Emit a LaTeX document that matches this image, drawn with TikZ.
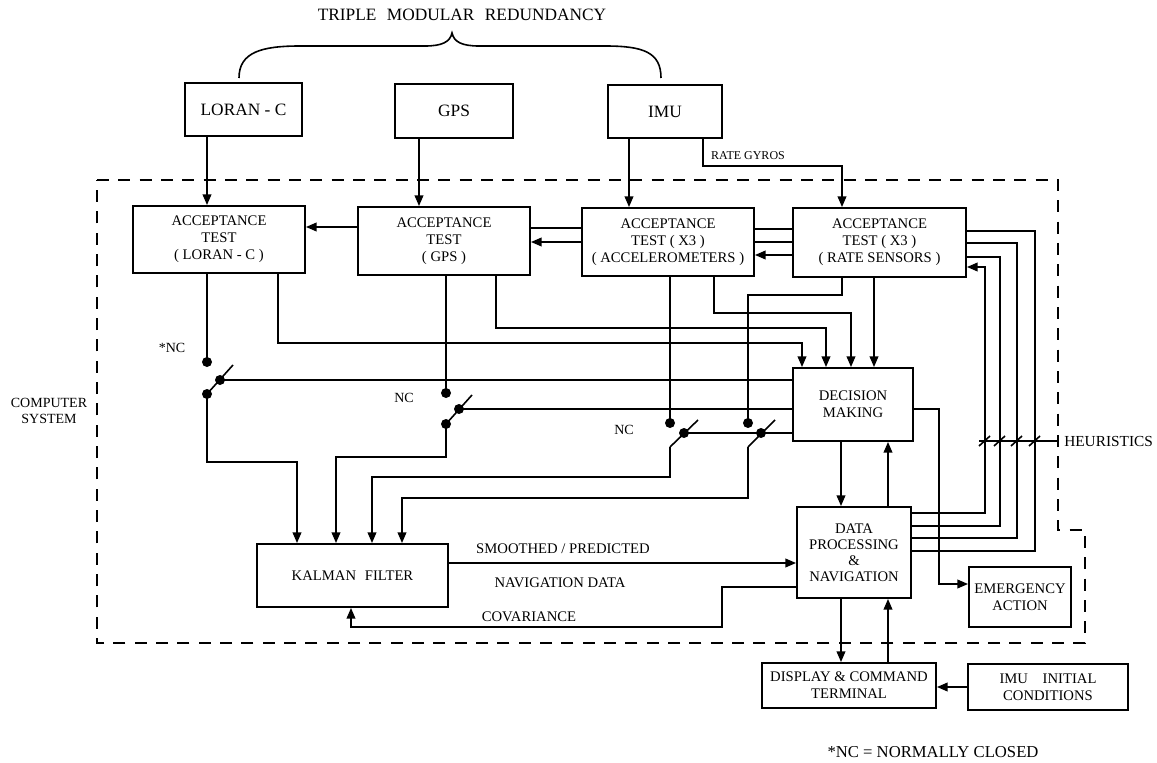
\documentclass[tikz,border=0pt]{standalone}
\usepackage{fontspec}
\setmainfont{Liberation Serif}
\usetikzlibrary{arrows.meta}
\begin{document}
\begin{tikzpicture}[x=0.75pt,y=-0.75pt,
  ln/.style={line width=1.2pt},
  arr/.style={ln,-{Triangle[length=8pt,width=6.5pt]}},
  box/.style={draw,line width=1.4pt,align=center,inner sep=1pt,font=\fontsize{11}{12.8}\selectfont},
  bsz/.style 2 args={minimum width=#1*0.75pt,minimum height=#2*0.75pt},
  dot/.style={circle,fill,inner sep=0pt,minimum size=7.5pt},
  lbl/.style={font=\fontsize{11}{13}\selectfont,inner sep=0pt},
  bigf/.style={font=\fontsize{13}{15}\selectfont},
]
\useasboundingbox (0,0) rectangle (1157,763);

% ---------- boxes ----------
\node[box,bigf,bsz={117}{53}] (loran) at (243.5,109.5) {LORAN - C};
\node[box,bigf,bsz={118}{54}] (gps) at (454,111) {GPS};
\node[box,bigf,bsz={114}{53}] (imu) at (665,111.5) {IMU};

\node[box,bsz={172}{67}] (atl) at (219,239.5) {ACCEPTANCE\\TEST\\( LORAN - C )};
\node[box,bsz={172}{68}] (atg) at (444,241) {ACCEPTANCE\\TEST\\( GPS )};
\node[box,bsz={172}{68}] (ata) at (668,242) {ACCEPTANCE\\TEST ( X3 )\\( ACCELEROMETERS )};
\node[box,bsz={173}{69}] (atr) at (879.5,242.5) {ACCEPTANCE\\TEST ( X3 )\\( RATE SENSORS )};

\node[box,bsz={120}{73}] (dm) at (853,404.5) {DECISION\\MAKING};
\node[box,bsz={114}{91},font=\fontsize{11}{12}\selectfont] (dpn) at (854,552.5) {DATA\\PROCESSING\\\&\\NAVIGATION};
\node[box,bsz={102}{60}] (ea) at (1020,597) {EMERGENCY\\ACTION};
\node[box,bsz={191}{63}] (kf) at (352.5,575.5) {KALMAN\hspace{0.6em}FILTER};
\node[box,bsz={174}{45}] (dct) at (849,685.5) {DISPLAY \& COMMAND\\TERMINAL};
\node[box,bsz={160}{46}] (iic) at (1048,687) {IMU\hspace{1em}INITIAL\\CONDITIONS};

% ---------- computer system boundary ----------
\draw[line width=1.4pt,dash pattern=on 9pt off 7pt]
  (97,180) -- (1058,180) -- (1058,530) -- (1085,530) -- (1085,643) -- (97,643) -- cycle;
\node[lbl,align=center,font=\fontsize{10.5}{12}\selectfont] (cs) at (49,411) {COMPUTER\\SYSTEM};

% ---------- triple modular redundancy ----------
\node[lbl,font=\fontsize{13}{15}\selectfont] (tmr) at (462,15) {TRIPLE\hspace{0.6em}MODULAR\hspace{0.6em}REDUNDANCY};
\draw[ln] (239,78) .. controls (239,52) and (262,46) .. (300,46) -- (425,46)
  .. controls (442,46) and (450,42) .. (452,33)
  .. controls (454,42) and (462,46) .. (479,46) -- (605,46)
  .. controls (643,46) and (661,52) .. (661,78);

% ---------- sensor inputs ----------
\draw[arr] (loran.south -| 207,0) -- (atl.north -| 207,0);
\draw[arr] (gps.south -| 419,0) -- (atg.north -| 419,0);
\draw[arr] (imu.south -| 629,0) -- (ata.north -| 629,0);
\draw[arr] (imu.south -| 703,0) -- (703,166) -- (842,166) -- (atr.north -| 842,0);
\node[lbl,font=\fontsize{9}{10}\selectfont] (rg) at (748,156) {RATE GYROS};

% ---------- links between acceptance tests ----------
\draw[arr] (atg.west |- 0,227) -- (atl.east |- 0,227);
\draw[ln] (ata.west |- 0,228) -- (atg.east |- 0,228);
\draw[arr] (ata.west |- 0,242) -- (atg.east |- 0,242);
\draw[ln] (atr.west |- 0,229) -- (ata.east |- 0,229);
\draw[ln] (atr.west |- 0,242) -- (ata.east |- 0,242);
\draw[arr] (atr.west |- 0,255) -- (ata.east |- 0,255);

% ---------- lines to decision making (top) ----------
\draw[arr] (atl.south -| 278,0) -- (278,343) -- (802,343) -- (dm.north -| 802,0);
\draw[arr] (atg.south -| 496,0) -- (496,328) -- (826,328) -- (dm.north -| 826,0);
\draw[arr] (ata.south -| 714,0) -- (714,313) -- (851,313) -- (dm.north -| 851,0);
\draw[arr] (atr.south -| 874,0) -- (dm.north -| 874,0);

% ---------- switch 1 ----------
\node[dot] (s1u) at (207,362) {};
\node[dot] (s1l) at (207,394) {};
\node[dot] (s1m) at (220,380) {};
\coordinate (s1t) at (233,365);
\draw[ln] (atl.south -| s1u) -- (s1u.center);
\draw[ln] (s1l.center) -- (s1t);
\draw[ln] (s1m.center) -- (dm.west |- s1m);
\draw[arr] (s1l.center) -- (207,462) -- (297,462) -- (kf.north -| 297,0);
\node[lbl,font=\fontsize{10.5}{12}\selectfont] (nc1) at (172,348) {*NC};

% ---------- switch 2 ----------
\node[dot] (s2u) at (446,393) {};
\node[dot] (s2l) at (446,424) {};
\node[dot] (s2m) at (459,409) {};
\coordinate (s2t) at (472,395);
\draw[ln] (atg.south -| s2u) -- (s2u.center);
\draw[ln] (s2l.center) -- (s2t);
\draw[ln] (s2m.center) -- (dm.west |- s2m);
\draw[arr] (s2l.center) -- (446,457) -- (336,457) -- (kf.north -| 336,0);
\node[lbl,font=\fontsize{10.5}{12}\selectfont] (nc2) at (404,398) {NC};

% ---------- switches 3 and 4 ----------
\node[dot] (s3u) at (670,423) {};
\node[dot] (s3m) at (684,433) {};
\coordinate (s3b) at (670,447);
\coordinate (s3t) at (698,420);
\node[dot] (s4u) at (748,423) {};
\node[dot] (s4m) at (761,433) {};
\coordinate (s4b) at (748,447);
\coordinate (s4t) at (775,420);
\draw[ln] (ata.south -| s3u) -- (s3u.center);
\draw[ln] (atr.south -| 842,0) -- (842,295) -- (748,295) -- (s4u.center);
\draw[ln] (s3b) -- (s3t);
\draw[ln] (s4b) -- (s4t);
\draw[ln] (s3m.center) -- (s4m.center) -- (dm.west |- s4m);
\draw[arr] (s3b) -- (670,477) -- (372,477) -- (kf.north -| 372,0);
\draw[arr] (s4b) -- (748,498) -- (402,498) -- (kf.north -| 402,0);
\node[lbl,font=\fontsize{10.5}{12}\selectfont] (nc3) at (624,430) {NC};

% ---------- decision making / data processing ----------
\draw[arr] (dm.south -| 841,0) -- (dpn.north -| 841,0);
\draw[arr] (dpn.north -| 888,0) -- (dm.south -| 888,0);
\draw[arr] (dm.east |- 0,409) -- (939,409) -- (939,584) -- (ea.west |- 0,584);

% ---------- feedback to rate sensors ----------
\draw[arr] (dpn.east |- 0,513) -- (985,513) -- (985,267) -- (atr.east |- 0,267);
\draw[ln] (atr.east |- 0,257) -- (1000,257) -- (1000,526) -- (dpn.east |- 0,526);
\draw[ln] (atr.east |- 0,243) -- (1017,243) -- (1017,538) -- (dpn.east |- 0,538);
\draw[ln] (atr.east |- 0,231) -- (1035,231) -- (1035,551) -- (dpn.east |- 0,551);

% ---------- heuristics ----------
\node[lbl,anchor=west,font=\fontsize{11.5}{13}\selectfont] (heu) at (1064,441) {HEURISTICS};
\coordinate (hs) at (979,441);
\draw[ln] (hs) -- (1058,441);
\draw[ln] (1058,436) -- (1058,446);
\foreach \xx in {985,1000,1017,1035} {\draw[ln] (\xx-6,446) -- (\xx+5,436);}

% ---------- kalman filter links ----------
\draw[arr] (kf.east |- 0,563) -- (dpn.west |- 0,563);
\node[lbl] (smo) at (563,549) {SMOOTHED / PREDICTED};
\node[lbl] (nav) at (560,583) {NAVIGATION DATA};
\draw[arr] (dpn.west |- 0,587) -- (722,587) -- (722,627) -- (351,627) -- (kf.south -| 351,0);
\node[lbl] (cov) at (529,617) {COVARIANCE};

% ---------- display & command ----------
\draw[arr] (dpn.south -| 841,0) -- (dct.north -| 841,0);
\draw[arr] (dct.north -| 888,0) -- (dpn.south -| 888,0);
\draw[arr] (iic.west |- 0,687) -- (dct.east |- 0,687);

\node[lbl,font=\fontsize{12.5}{14}\selectfont] (foot) at (933,752) {*NC = NORMALLY CLOSED};
\end{tikzpicture}
\end{document}
